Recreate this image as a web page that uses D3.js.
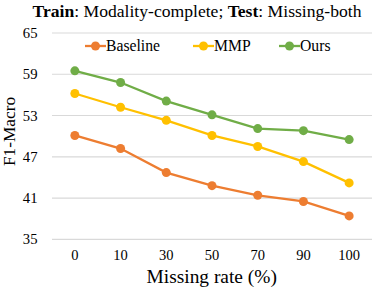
<html>
<head>
<meta charset="utf-8">
<title>F1-Macro vs missing rate</title>
<style>
  body { margin: 0; background: #fff; }
</style>
</head>
<body>
<script src="https://cdn.jsdelivr.net/npm/d3@7"></script>
<script>

var width  = 374;
var height = 290;

var rates    = ["0", "10", "30", "50", "70", "90", "100"];
var baseline = [50.1, 48.2, 44.7, 42.8, 41.4, 40.5, 38.4];
var mmp      = [56.2, 54.2, 52.3, 50.1, 48.5, 46.3, 43.2];
var ours     = [59.5, 57.8, 55.1, 53.1, 51.1, 50.8, 49.5];
var yTicks   = [35, 41, 47, 53, 59, 65];
var names    = ["Baseline", "MMP", "Ours"];
var colors   = ["#ED7D31", "#FFC000", "#70AD47"];

var series = [baseline, mmp, ours];

var svg = d3.select("body")
			.append("svg")
			.attr("width", width)
			.attr("height", height)
			.style("font-family", "'Liberation Serif', 'Times New Roman', serif");

var x = d3.scaleBand()
			.domain(rates)
			.range([52, 372]);

var y = d3.scaleLinear()
			.domain([35, 65])
			.range([239.3, 33]);

// gridlines
svg.append("g")
	.selectAll("line")
	.data(yTicks)
	.enter()
	.append("line")
	.attr("x1", 52)
	.attr("x2", 372)
	.attr("y1", function(d){ return y(d); })
	.attr("y2", function(d){ return y(d); })
	.attr("stroke", "#D9D9D9")
	.attr("stroke-width", 1.2);

// y tick labels
svg.append("g")
	.selectAll("text")
	.data(yTicks)
	.enter()
	.append("text")
	.attr("x", 37.5)
	.attr("y", function(d){ return y(d); })
	.attr("dy", "0.35em")
	.attr("text-anchor", "end")
	.style("font-size", "14.7px")
	.text(function(d){ return d; });

// x tick labels
svg.append("g")
	.selectAll("text")
	.data(rates)
	.enter()
	.append("text")
	.attr("x", function(d){ return x(d) + x.bandwidth() / 2; })
	.attr("y", 259.5)
	.attr("text-anchor", "middle")
	.style("font-size", "14.5px")
	.text(function(d){ return d; });

// lines and markers
var line = d3.line()
			.x(function(d, i){ return x(rates[i]) + x.bandwidth() / 2; })
			.y(function(d){ return y(d); });

series.forEach(function(s, k){
	svg.append("path")
		.datum(s)
		.attr("d", line)
		.attr("fill", "none")
		.attr("stroke", colors[k])
		.attr("stroke-width", 2.3);
	svg.append("g")
		.selectAll("circle")
		.data(s)
		.enter()
		.append("circle")
		.attr("cx", function(d, i){ return x(rates[i]) + x.bandwidth() / 2; })
		.attr("cy", function(d){ return y(d); })
		.attr("r", 4.5)
		.attr("fill", colors[k]);
});

// legend
var legendX = [85, 193, 279];
var lg = svg.append("g")
			.selectAll("g")
			.data(names)
			.enter()
			.append("g")
			.attr("transform", function(d, i){ return "translate(" + legendX[i] + ",46)"; });
lg.append("line")
	.attr("x1", 0).attr("x2", 21)
	.attr("stroke", function(d, i){ return colors[i]; })
	.attr("stroke-width", 2.3);
lg.append("circle")
	.attr("cx", 10.5).attr("r", 4.5)
	.attr("fill", function(d, i){ return colors[i]; });
lg.append("text")
	.attr("x", 21)
	.attr("dy", "0.33em")
	.style("font-size", "15.7px")
	.text(function(d){ return d; });

// title
var title = svg.append("text")
			.attr("x", 197)
			.attr("y", 17.3)
			.attr("text-anchor", "middle")
			.style("font-size", "17.6px");
title.append("tspan").style("font-weight", "bold").text("Train");
title.append("tspan").text(": Modality-complete; ");
title.append("tspan").style("font-weight", "bold").text("Test");
title.append("tspan").text(": Missing-both");

// axis titles
svg.append("text")
	.attr("transform", "translate(15,131.5) rotate(-90)")
	.attr("text-anchor", "middle")
	.style("font-size", "17.3px")
	.text("F1-Macro");

svg.append("text")
	.attr("x", 211.7)
	.attr("y", 283)
	.attr("text-anchor", "middle")
	.style("font-size", "19.4px")
	.text("Missing rate (%)");

</script>
</body>
</html>
